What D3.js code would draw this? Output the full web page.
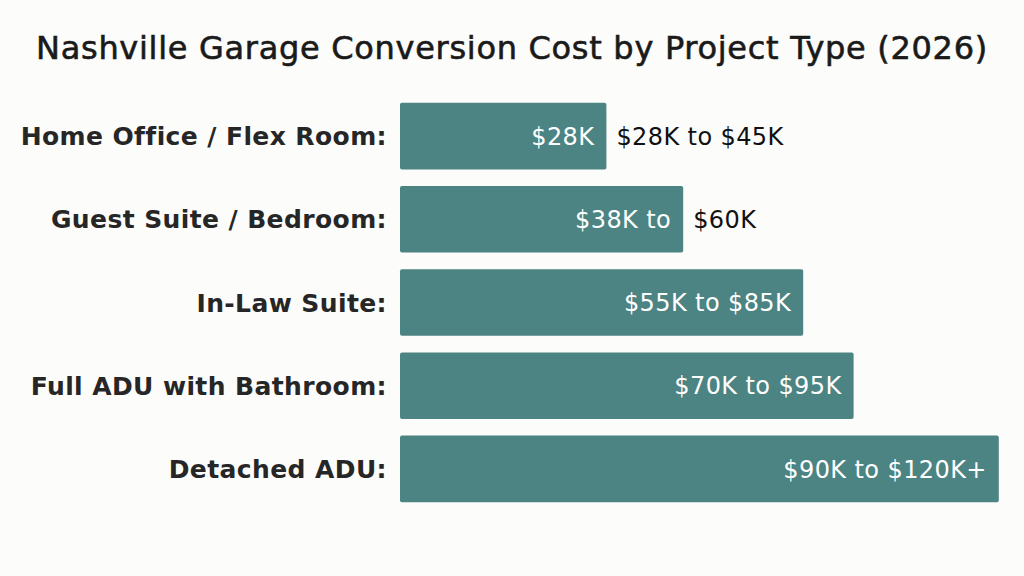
<!DOCTYPE html>
<html lang="en">
<head>
<meta charset="UTF-8" />
<title>Nashville Garage Conversion Cost by Project Type (2026)</title>
<script src="https://cdn.jsdelivr.net/npm/d3@7/dist/d3.min.js"></script>
<style>
    body {
        margin: 0;
        background: #fcfcfb;
        font-family: 'DejaVu Sans', sans-serif;
        overflow: hidden;
    }
</style>
</head>
<body>
<svg width="1024" height="576"></svg>
<script>
    const titleText = "Nashville Garage Conversion Cost by Project Type (2026)";
    const categories = [
        "Home Office / Flex Room:",
        "Guest Suite / Bedroom:",
        "In-Law Suite:",
        "Full ADU with Bathroom:",
        "Detached ADU:"
    ];
    // bar length as drawn, in $K
    const barValues = [43, 59, 84, 94.5, 124.75];
    const insideLabels = ["$28K", "$38K to", "$55K to $85K", "$70K to $95K", "$90K to $120K+"];
    const outsideLabels = ["$28K to $45K", "$60K", "", "", ""];

    const width = 1024, height = 576;
    const barColor = "#4b8482";
    const textColor = "#262626";

    const svg = d3.select("svg");

    svg.append("rect")
        .attr("width", width)
        .attr("height", height)
        .attr("fill", "#fcfcfb");

    const x = d3.scaleLinear()
        .domain([0, 125])
        .range([400, 1000]);

    const y = d3.scaleBand()
        .domain(categories)
        .range([94.5, 510.5])
        .paddingInner(0.2)
        .paddingOuter(0.1);

    svg.append("text")
        .attr("x", width / 2)
        .attr("y", 59)
        .attr("text-anchor", "middle")
        .attr("fill", "#1a1a1a")
        .attr("stroke", "#1a1a1a")
        .attr("stroke-width", 0.6)
        .style("font-size", "32px")
        .style("letter-spacing", "0.7px")
        .text(titleText);

    const rows = svg.selectAll(".row")
        .data(categories)
        .enter().append("g")
        .attr("class", "row");

    rows.append("rect")
        .attr("x", x(0))
        .attr("y", d => y(d))
        .attr("width", (d, i) => x(barValues[i]) - x(0))
        .attr("height", y.bandwidth())
        .attr("rx", 2)
        .attr("fill", barColor);

    rows.append("text")
        .attr("x", x(0) - 13)
        .attr("y", d => y(d) + y.bandwidth() / 2)
        .attr("dy", "0.36em")
        .attr("text-anchor", "end")
        .attr("fill", textColor)
        .style("font-size", "25px")
        .style("font-weight", 700)
        .style("letter-spacing", "0.4px")
        .text(d => d);

    rows.append("text")
        .attr("x", (d, i) => x(barValues[i]) - 12)
        .attr("y", d => y(d) + y.bandwidth() / 2)
        .attr("dy", "0.36em")
        .attr("text-anchor", "end")
        .attr("fill", "#ffffff")
        .style("font-size", "24px")
        .style("letter-spacing", "0.4px")
        .text((d, i) => insideLabels[i]);

    rows.append("text")
        .attr("x", (d, i) => x(barValues[i]) + 10)
        .attr("y", d => y(d) + y.bandwidth() / 2)
        .attr("dy", "0.36em")
        .attr("text-anchor", "start")
        .attr("fill", "#111111")
        .style("font-size", "24px")
        .style("letter-spacing", "0.4px")
        .text((d, i) => outsideLabels[i]);
</script>
</body>
</html>
